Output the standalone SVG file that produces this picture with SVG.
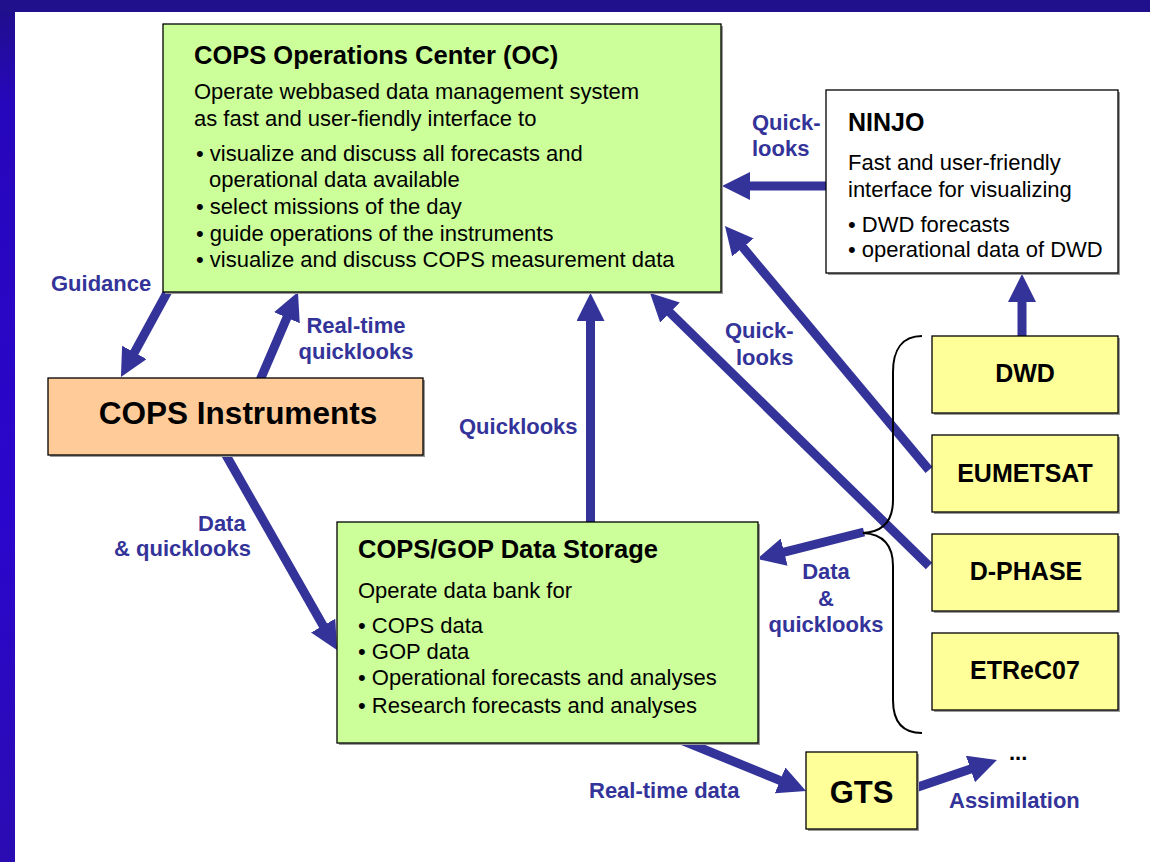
<svg xmlns="http://www.w3.org/2000/svg" width="1150" height="862" viewBox="0 0 1150 862">
<style>
text{font-family:"Liberation Sans",Arial,sans-serif;fill:#000}
.t{font-weight:bold}
.b22{font-size:22px}
.lbl{font-weight:bold;font-size:22px;fill:#333399}
.box{stroke:#000;stroke-width:1.3}
.sh{fill:#9a9a9a}
.con{stroke:#333399;stroke-width:9;fill:none}
.yel{fill:#ffff99}
.grn{fill:#ccff99}
.ctr{text-anchor:middle}
</style>
<defs>
<linearGradient id="lg" x1="0" y1="0" x2="0" y2="1">
<stop offset="0" stop-color="#1f0f88"/>
<stop offset="0.12" stop-color="#2707bc"/>
<stop offset="0.6" stop-color="#2a06cc"/>
<stop offset="1" stop-color="#2a0cb2"/>
</linearGradient>
<marker id="ah" markerUnits="userSpaceOnUse" markerWidth="28" markerHeight="28" viewBox="0 0 28 28" refX="1" refY="14" orient="auto">
<path d="M0,0 L28,14 L0,28 z" fill="#333399"/>
</marker>
</defs>
<rect x="0" y="0" width="1150" height="862" fill="#fff"/>
<rect x="0" y="0" width="15" height="862" fill="url(#lg)"/>
<rect x="0" y="0" width="1150" height="12" fill="#21108c"/>

<g id="connectors">
<path class="con" d="M169.4,288.4 L133.9,353.3" marker-end="url(#ah)"/>
<path class="con" d="M259.8,380.8 L287.3,316.8" marker-end="url(#ah)"/>
<path class="con" d="M224.5,452.4 L323.6,626.5" marker-end="url(#ah)"/>
<path class="con" d="M590.5,524 L590.5,320" marker-end="url(#ah)"/>
<path class="con" d="M828,186 L749,186" marker-end="url(#ah)"/>
<path class="con" d="M929,470 L742.3,246.7" marker-end="url(#ah)"/>
<path class="con" d="M929,566 L669.3,311.9" marker-end="url(#ah)"/>
<path class="con" d="M864,532 L783.2,552.4" marker-end="url(#ah)"/>
<path class="con" d="M1022,338 L1022,301" marker-end="url(#ah)"/>
<path class="con" d="M681,740 L781,780.8" marker-end="url(#ah)"/>
<path class="con" d="M915,788 L971.4,768.7" marker-end="url(#ah)"/>
</g>

<g id="brace">
<path d="M922,336 C902,336 893,350 893,372 L893,500 C893,522 882,532 863,533 C882,534 893,544 893,566 L893,700 C893,722 902,733 922,733" fill="none" stroke="#000" stroke-width="2"/>
</g>

<g id="oc">
<rect class="sh" x="165" y="26" width="558" height="268"/>
<rect class="box grn" x="163" y="24" width="558" height="268"/>
<text class="t" x="194" y="63.5" font-size="25.5">COPS Operations Center (OC)</text>
<text class="b22" x="194" y="99">Operate webbased data management system</text>
<text class="b22" x="194" y="126">as fast and user-fiendly interface to</text>
<text class="b22" x="196" y="161">• visualize and discuss all forecasts and</text>
<text class="b22" x="209" y="187">operational data available</text>
<text class="b22" x="196" y="214">• select missions of the day</text>
<text class="b22" x="196" y="240.5">• guide operations of the instruments</text>
<text class="b22" x="196" y="267">• visualize and discuss COPS measurement data</text>
</g>

<g id="ninjo">
<rect class="sh" x="828" y="92" width="292" height="183"/>
<rect class="box" fill="#fff" x="826" y="90" width="292" height="183"/>
<text class="t" x="848" y="131" font-size="25">NINJO</text>
<text class="b22" x="848" y="170">Fast and user-friendly</text>
<text class="b22" x="848" y="197">interface for visualizing</text>
<text class="b22" x="848" y="232">• DWD forecasts</text>
<text class="b22" x="848" y="257">• operational data of DWD</text>
</g>

<g id="instruments">
<rect class="sh" x="50" y="380" width="375" height="77"/>
<rect class="box" fill="#ffcc99" x="48" y="378" width="375" height="77"/>
<text class="t ctr" x="238" y="424" font-size="31.5">COPS Instruments</text>
</g>

<g id="storage">
<rect class="sh" x="339" y="524" width="421" height="221"/>
<rect class="box grn" x="337" y="522" width="421" height="221"/>
<text class="t" x="358" y="558" font-size="25.5">COPS/GOP Data Storage</text>
<text class="b22" x="358" y="598">Operate data bank for</text>
<text class="b22" x="358" y="633">• COPS data</text>
<text class="b22" x="358" y="659">• GOP data</text>
<text class="b22" x="358" y="685">• Operational forecasts and analyses</text>
<text class="b22" x="358" y="713">• Research forecasts and analyses</text>
</g>

<g id="dwd">
<rect class="sh" x="934" y="338" width="186" height="77"/>
<rect class="box yel" x="932" y="336" width="186" height="77"/>
<text class="t ctr" x="1025" y="382" font-size="25">DWD</text>
</g>
<g id="eumetsat">
<rect class="sh" x="934" y="437" width="186" height="77"/>
<rect class="box yel" x="932" y="435" width="186" height="77"/>
<text class="t ctr" x="1025" y="482" font-size="25">EUMETSAT</text>
</g>
<g id="dphase">
<rect class="sh" x="934" y="536" width="186" height="77"/>
<rect class="box yel" x="932" y="534" width="186" height="77"/>
<text class="t ctr" x="1026" y="580" font-size="25">D-PHASE</text>
</g>
<g id="etrec07">
<rect class="sh" x="934" y="635" width="186" height="77"/>
<rect class="box yel" x="932" y="633" width="186" height="77"/>
<text class="t ctr" x="1025" y="679" font-size="25">ETReC07</text>
</g>

<g id="gts">
<rect class="sh" x="808" y="754" width="111" height="77"/>
<rect class="box yel" x="806" y="752" width="111" height="77"/>
<text class="t ctr" x="861.5" y="803" font-size="31">GTS</text>
</g>

<g id="labels">
<text class="lbl" x="51" y="291">Guidance</text>
<text class="lbl ctr" x="356" y="333">Real-time</text>
<text class="lbl ctr" x="356" y="359">quicklooks</text>
<text class="lbl" x="198" y="531">Data</text>
<text class="lbl" x="114" y="556">&amp; quicklooks</text>
<text class="lbl" x="459" y="434">Quicklooks</text>
<text class="lbl" x="752" y="130">Quick-</text>
<text class="lbl" x="752" y="156">looks</text>
<text class="lbl" x="725" y="338">Quick-</text>
<text class="lbl" x="736" y="365">looks</text>
<text class="lbl ctr" x="826" y="579">Data</text>
<text class="lbl ctr" x="826" y="606">&amp;</text>
<text class="lbl ctr" x="826" y="632">quicklooks</text>
<text class="lbl" x="589" y="798">Real-time data</text>
<text class="lbl" x="949" y="808">Assimilation</text>
<text class="t" x="1009" y="760" font-size="22">...</text>
</g>
</svg>
